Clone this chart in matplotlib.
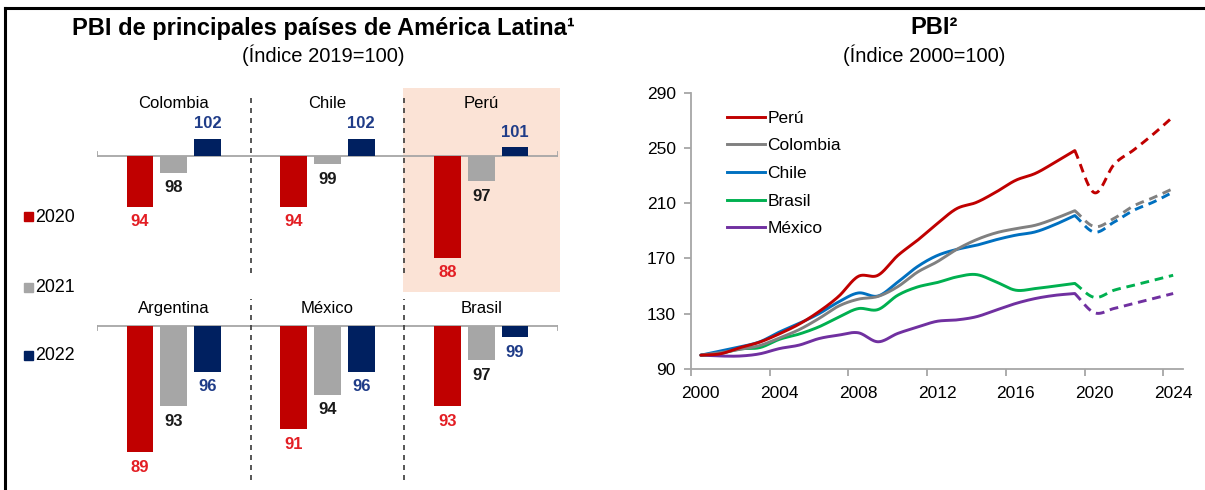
import numpy as np
import matplotlib
matplotlib.use("Agg")
import matplotlib.pyplot as plt
import matplotlib.transforms as mtransforms
from matplotlib.patches import Rectangle
from matplotlib.lines import Line2D

plt.rcParams["font.family"] = ["Liberation Sans", "DejaVu Sans"]

# ---------------- data ----------------
# Left panel: GDP index (2019 = 100)
countries_top = ["Colombia", "Chile", "Perú"]
countries_bottom = ["Argentina", "México", "Brasil"]
bar_years = ["2020", "2021", "2022"]

top_2020 = [94, 94, 88]
top_2021 = [98, 99, 97]
top_2022 = [102, 102, 101]

bottom_2020 = [89, 91, 93]
bottom_2021 = [93, 94, 97]
bottom_2022 = [96, 96, 99]

# Right panel: GDP index (2000 = 100), 2019 onwards are projections
years = list(range(2000, 2025))
gdp_peru = [100, 101, 105.5, 109.5, 115.5, 122.5, 131.5, 142.5, 157, 157.8, 172, 183,
            195, 206, 210.5, 218, 226.5, 231.5, 239.5, 248, 217.5, 238, 248.5, 260, 272.5]
gdp_colombia = [100, 101.8, 104.3, 107, 112.5, 118.5, 126.5, 135.5, 140.5, 142.5, 149.5, 160,
                167.5, 176.5, 183.5, 188.5, 191.5, 194, 198.8, 204.5, 193, 199, 208, 214, 220.5]
gdp_chile = [100, 103, 106, 109.7, 116.8, 123, 130, 138.5, 145, 142.8, 152.8, 164,
             172, 176.5, 179.5, 183.5, 186.8, 189.2, 194.5, 201, 189, 196.3, 204.8, 210.8, 218]
gdp_brasil = [100, 101.3, 104.5, 105.5, 111.5, 115.3, 120.5, 127.5, 133.7, 133, 143.3, 149.3,
              152.5, 156.6, 158.3, 153, 147, 148.2, 150, 151.9, 141.8, 147, 150.6, 154.2, 157.8]
gdp_mexico = [100, 99.4, 99.4, 101, 104.8, 107.3, 112, 114.5, 116.2, 109.7, 115.7, 120.3,
              124.5, 125.5, 127.8, 132.6, 137.4, 141, 143.3, 144.6, 130.7, 133.8, 137.4, 141, 144.6]
projection_start = 2019

# ---------------- styling ----------------
RED, GREY, NAVY = "#C00000", "#A6A6A6", "#002060"
RED_TXT, GREY_TXT, NAVY_TXT = "#E31E24", "#1A1A1A", "#1F3C88"
PEACH = "#FBE3D6"

W, H = 1205, 490
fig = plt.figure(figsize=(W / 100, H / 100), dpi=100)


def fx(px):
    return px / W


def fy(py):
    return 1 - py / H


def axes_px(left, top, right, bottom):
    return fig.add_axes([fx(left), fy(bottom), (right - left) / W, (bottom - top) / H])


# ---------------- left panel: bar groups ----------------
def draw_row(ax, names, v20, v21, v22, ylim, label_y, tick_px, px_per_unit, sep_span):
    ax.set_xlim(-0.5, 2.5)
    ax.set_ylim(*ylim)
    ax.axis("off")
    blend = mtransforms.blended_transform_factory(ax.transData, ax.transAxes)

    offsets = [-0.22, 0.0, 0.22]
    series = [(v20, RED, RED_TXT), (v21, GREY, GREY_TXT), (v22, NAVY, NAVY_TXT)]
    for off, (vals, col, tcol) in zip(offsets, series):
        xs = np.arange(len(vals)) + off
        ax.bar(xs, np.array(vals) - 100, bottom=100, width=0.175, color=col, zorder=3)
        for xi, v in zip(xs, vals):
            dy = 15 if v > 100 else -15
            ax.annotate(str(v), (xi, v), xytext=(0, dy), textcoords="offset pixels",
                        ha="center", va="center", fontsize=12, fontweight="bold",
                        color=tcol, zorder=4)

    # category baseline with small end ticks
    ax.plot([-0.5, 2.5], [100, 100], color=GREY, lw=1.3, zorder=2, solid_capstyle="butt")
    dt = tick_px / px_per_unit
    for xe in (-0.5, 2.5):
        ax.plot([xe, xe], [100, 100 + dt], color=GREY, lw=1.3, zorder=2)

    # dashed separators between countries
    for xs in (0.5, 1.5):
        ax.plot([xs, xs], sep_span, transform=blend, color="#3A3A3A", lw=1.2,
                ls=(0, (3, 3)), zorder=2)

    for i, name in enumerate(names):
        ax.text(i, label_y, name, ha="center", va="center", fontsize=12, color="black")


ax_top = axes_px(97, 88, 558, 292)
ax_bot = axes_px(97, 292, 558, 485)

blend_top = mtransforms.blended_transform_factory(ax_top.transData, ax_top.transAxes)
ax_top.add_patch(Rectangle((1.49, 0), 1.02, 1, transform=blend_top, color=PEACH,
                           zorder=0, clip_on=False, lw=0))

draw_row(ax_top, countries_top, top_2020, top_2021, top_2022,
         ylim=(100 - (292 - 155.7) / 8.5, 100 + (155.7 - 88) / 8.5),
         label_y=100 + (155.7 - 103) / 8.5, tick_px=4, px_per_unit=8.5,
         sep_span=(0.093, 0.956))
draw_row(ax_bot, countries_bottom, bottom_2020, bottom_2021, bottom_2022,
         ylim=(100 - (485 - 325.7) / 11.5, 100 + (325.7 - 292) / 11.5),
         label_y=100 + (325.7 - 308) / 11.5, tick_px=-4, px_per_unit=11.5,
         sep_span=(0.026, 0.964))

# left legend
for lab, col, ypx in zip(bar_years, [RED, GREY, NAVY], [217, 287, 355]):
    fig.patches.append(Rectangle((fx(24), fy(ypx + 4.5)), 9 / W, 9 / H,
                                 transform=fig.transFigure, color=col))
    fig.text(fx(35), fy(ypx), lab, ha="left", va="center", fontsize=12.8)

# titles
fig.text(fx(323), fy(28), "PBI de principales países de América Latina¹",
         ha="center", va="center", fontsize=17, fontweight="bold")
fig.text(fx(323), fy(55), "(Índice 2019=100)", ha="center", va="center", fontsize=14.5)
fig.text(fx(934), fy(28), "PBI²", ha="center", va="center", fontsize=17, fontweight="bold")
fig.text(fx(924), fy(55), "(Índice 2000=100)", ha="center", va="center", fontsize=14.5)


# ---------------- right panel: smoothed lines ----------------
def catmull_rom(x, y, n=24):
    x = np.asarray(x, float)
    y = np.asarray(y, float)
    px = np.concatenate([[2 * x[0] - x[1]], x, [2 * x[-1] - x[-2]]])
    py = np.concatenate([[2 * y[0] - y[1]], y, [2 * y[-1] - y[-2]]])
    t = np.linspace(0, 1, n, endpoint=False)
    xs, ys = [], []
    for i in range(1, len(px) - 2):
        for arr, out in ((px, xs), (py, ys)):
            p0, p1, p2, p3 = arr[i - 1], arr[i], arr[i + 1], arr[i + 2]
            out.append(0.5 * ((2 * p1) + (-p0 + p2) * t
                              + (2 * p0 - 5 * p1 + 4 * p2 - p3) * t ** 2
                              + (-p0 + 3 * p1 - 3 * p2 + p3) * t ** 3))
    xs.append([x[-1]])
    ys.append([y[-1]])
    return np.concatenate(xs), np.concatenate(ys)


ax = axes_px(691, 92.5, 1183, 369)
ax.set_xlim(1999.5, 2024.5)
ax.set_ylim(90, 290)

series = [("Perú", gdp_peru, "#C00000"),
          ("Colombia", gdp_colombia, "#808080"),
          ("Chile", gdp_chile, "#0070C0"),
          ("Brasil", gdp_brasil, "#00B050"),
          ("México", gdp_mexico, "#7030A0")]

yrs = np.array(years)
for name, vals, col in reversed(series):
    vals = np.array(vals)
    hist = yrs <= projection_start
    proj = yrs >= projection_start
    xs, ys = catmull_rom(yrs[hist], vals[hist])
    ax.plot(xs, ys, color=col, lw=2.1, solid_capstyle="round", zorder=3)
    xs, ys = catmull_rom(yrs[proj], vals[proj])
    ax.plot(xs, ys, color=col, lw=2.1, ls=(0, (3, 2)), zorder=3)

handles = [Line2D([], [], color=col, lw=2.1) for _, _, col in series]
ax.legend(handles, [s[0] for s in series], loc="upper left",
          bbox_to_anchor=(fx(727), fy(110.5)), bbox_transform=fig.transFigure,
          frameon=False, fontsize=12.5, handlelength=2.2, handletextpad=0.12,
          labelspacing=0.72, borderpad=0, borderaxespad=0)

for s in ("top", "right"):
    ax.spines[s].set_visible(False)
for s in ("left", "bottom"):
    ax.spines[s].set_color("#A6A6A6")
    ax.spines[s].set_linewidth(1.3)

ax.set_yticks(np.arange(90, 291, 40))
ax.tick_params(axis="y", direction="out", length=5, color="#A6A6A6", width=1.3,
               labelsize=12.5, pad=6)
ax.set_xticks(np.arange(1999.5, 2024, 4))
ax.set_xticklabels([])
ax.set_xticks(np.arange(2000, 2025, 4), minor=True)
ax.set_xticklabels([str(y) for y in range(2000, 2025, 4)], minor=True)
ax.tick_params(axis="x", which="major", direction="out", length=5, color="#A6A6A6", width=1.3)
ax.tick_params(axis="x", which="minor", length=0, labelsize=12.5, pad=12)

# frame lines along the top and left edge
fig.add_artist(Line2D([fx(5), 1], [fy(8), fy(8)], color="black", lw=2.2,
                      transform=fig.transFigure))
fig.add_artist(Line2D([fx(5), fx(5)], [fy(8), 0], color="black", lw=2.2,
                      transform=fig.transFigure))

fig.savefig("out.png", dpi=100)
